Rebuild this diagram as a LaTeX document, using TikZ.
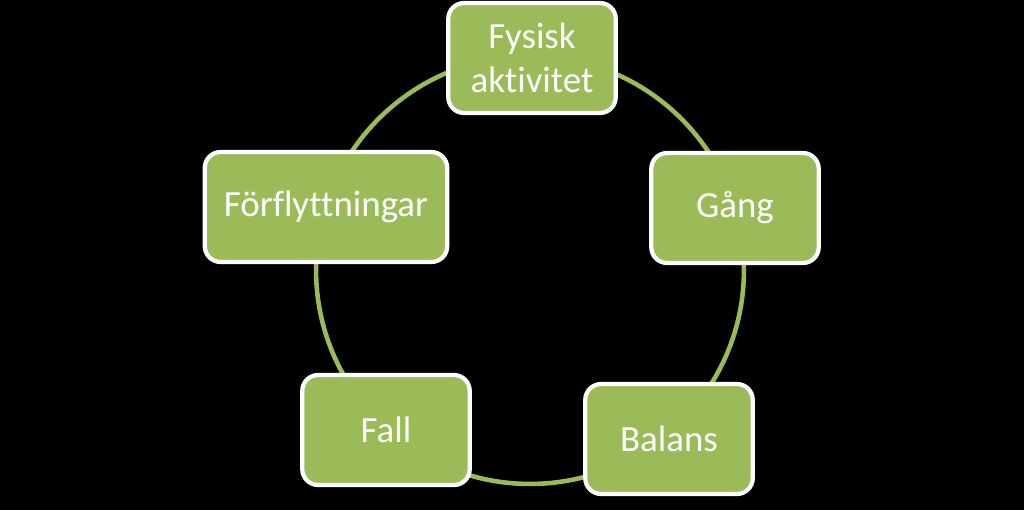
\documentclass[tikz,border=0pt]{standalone}
\usepackage{fontspec}
\setmainfont{Carlito}[Ligatures=NoCommon]
\usetikzlibrary{positioning}
\definecolor{olgreen}{HTML}{9BBB59}

\begin{document}
\begin{tikzpicture}[x=0.02cm, y=-0.02cm,
        b/.style={draw=white, fill=olgreen, line width=2.4pt, rounded corners=9pt, text=white, font=\fontsize{21}{25}\selectfont, minimum width=3.35cm, minimum height=2.2cm, align=center},
        ring/.style={draw=olgreen, line width=2.6pt}]
      \fill[black] (0,0) rectangle (1024,510);
      \useasboundingbox (0,0) rectangle (1024,510);
      \coordinate (c) at (530,270);
      \draw[ring] (c) circle[radius=4.28cm];
      \node[b] (fa) at (532,58) {Fysisk\\aktivitet};
      \node[b] (g) at (735,208) {Gång};
      \node[b] (ba) at (669,439) {Balans};
      \node[b] (fl) at (386,430) {Fall};
      \node[b, minimum width=4.85cm] (ff) at (326,207) {Förflyttningar};
    \end{tikzpicture}
\end{document}
